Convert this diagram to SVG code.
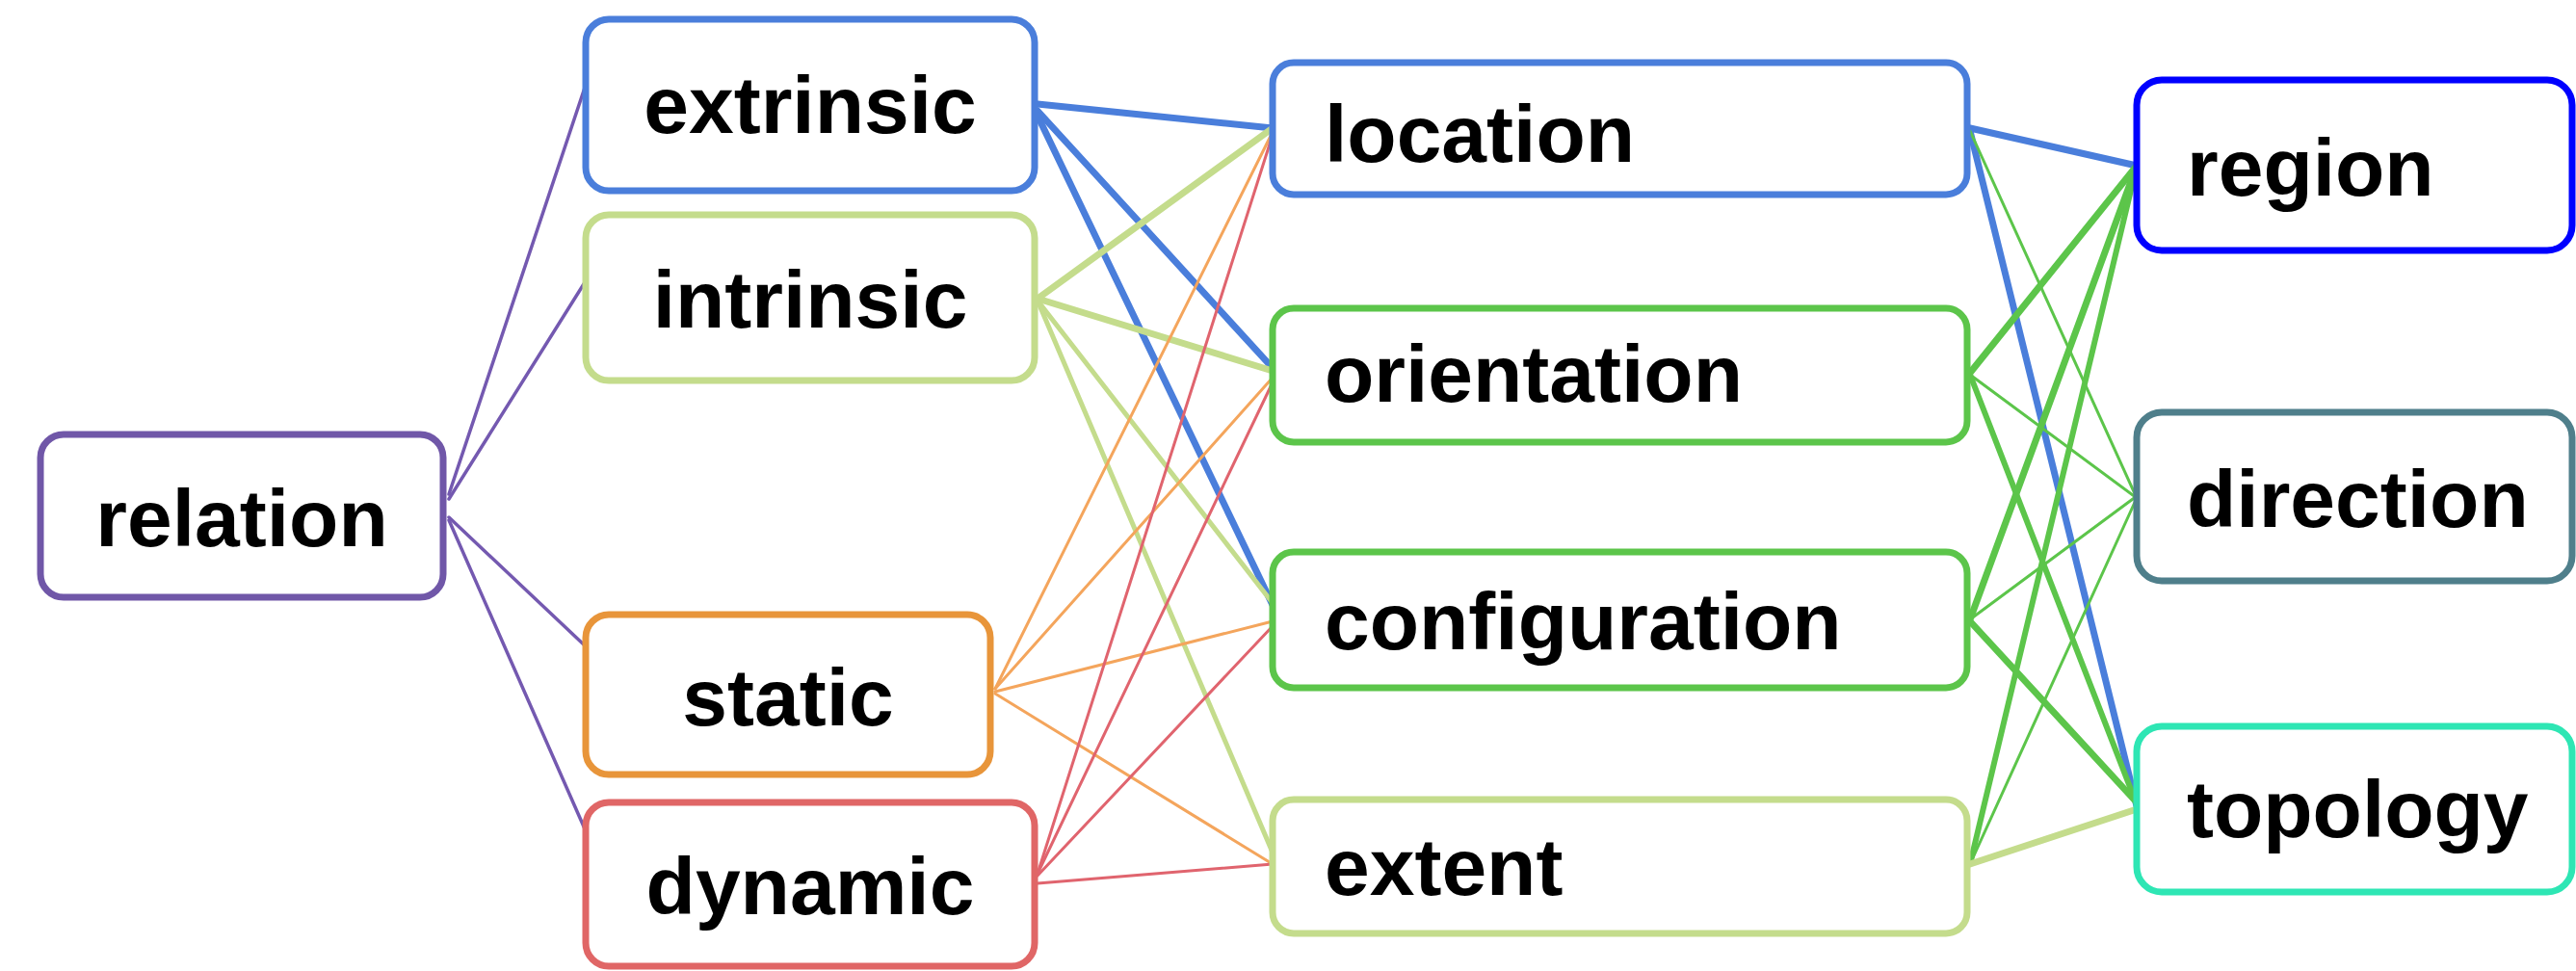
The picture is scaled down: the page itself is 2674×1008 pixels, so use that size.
<svg xmlns="http://www.w3.org/2000/svg" width="2674" height="1008" viewBox="0 0 2674 1008">
  <style>
    .box { fill: #ffffff; stroke-width: 7; }
    .lbl { font-family: "Liberation Sans", Arial, sans-serif; font-weight: bold; font-size: 84px; fill: #000000; }
    .mid { text-anchor: middle; }
    .start { text-anchor: start; }
    .edges line { stroke-linecap: round; fill: none; }
    .purple { stroke: #7459B0; stroke-width: 3.5; }
    .blue { stroke: #4A7EDB; stroke-width: 7; }
    .lgreen { stroke: #C4DC8C; }
    .orange { stroke: #F4A55C; stroke-width: 3; }
    .red { stroke: #E0646E; stroke-width: 3; }
    .green { stroke: #5CC54A; }
  </style>

  <!-- connectors -->
  <g id="connectors" class="edges">
    <!-- relation to its four kinds -->
    <line class="purple" x1="466" y1="513" x2="609" y2="85"/>
    <line class="purple" x1="466" y1="518" x2="609" y2="290"/>
    <line class="purple" x1="466" y1="537" x2="609" y2="672"/>
    <line class="purple" x1="466" y1="540" x2="609" y2="865"/>

    <!-- extrinsic -->
    <line class="blue" x1="1077" y1="108" x2="1321" y2="133"/>
    <line class="blue" x1="1077" y1="115" x2="1321" y2="382"/>
    <line class="blue" x1="1077" y1="120" x2="1321" y2="628"/>

    <!-- intrinsic -->
    <line class="lgreen" stroke-width="7" x1="1077" y1="310" x2="1321" y2="133"/>
    <line class="lgreen" stroke-width="7" x1="1077" y1="310" x2="1321" y2="385"/>
    <line class="lgreen" stroke-width="5" x1="1077" y1="312" x2="1321" y2="626"/>
    <line class="lgreen" stroke-width="5" x1="1077" y1="312" x2="1321" y2="885"/>

    <!-- static -->
    <line class="orange" x1="1033" y1="715" x2="1321" y2="137"/>
    <line class="orange" x1="1033" y1="715" x2="1321" y2="392"/>
    <line class="orange" x1="1033" y1="718" x2="1321" y2="645"/>
    <line class="orange" x1="1033" y1="720" x2="1321" y2="897"/>

    <!-- dynamic -->
    <line class="red" x1="1077" y1="907" x2="1321" y2="140"/>
    <line class="red" x1="1077" y1="907" x2="1321" y2="397"/>
    <line class="red" x1="1077" y1="909" x2="1321" y2="650"/>
    <line class="red" stroke-width="3.5" x1="1077" y1="917" x2="1321" y2="897"/>

    <!-- location -->
    <line class="blue" x1="2045" y1="133" x2="2218" y2="172"/>
    <line class="blue" x1="2045" y1="136" x2="2218" y2="837"/>
    <line class="green" stroke-width="3" x1="2045" y1="136" x2="2218" y2="517"/>

    <!-- orientation -->
    <line class="green" stroke-width="7" x1="2045" y1="387" x2="2218" y2="172"/>
    <line class="green" stroke-width="3" x1="2045" y1="389" x2="2218" y2="517"/>
    <line class="green" stroke-width="6" x1="2045" y1="389" x2="2218" y2="835"/>

    <!-- configuration -->
    <line class="green" stroke-width="7" x1="2045" y1="643" x2="2218" y2="172"/>
    <line class="green" stroke-width="3" x1="2045" y1="643" x2="2218" y2="515"/>
    <line class="green" stroke-width="7" x1="2045" y1="645" x2="2218" y2="833"/>

    <!-- extent -->
    <line class="green" stroke-width="6" x1="2045" y1="897" x2="2218" y2="172"/>
    <line class="green" stroke-width="3" x1="2045" y1="897" x2="2218" y2="517"/>
    <line class="lgreen" stroke-width="7" x1="2045" y1="897" x2="2218" y2="840"/>
  </g>

  <!-- first column -->
  <g id="relation">
    <rect class="box" x="42" y="451" width="418" height="169" rx="24" stroke="#7057A8"/>
    <text class="lbl mid" x="251" y="567">relation</text>
  </g>

  <!-- second column -->
  <g id="extrinsic">
    <rect class="box" x="608" y="20" width="466" height="178" rx="24" stroke="#4A7EDB"/>
    <text class="lbl mid" x="841" y="138">extrinsic</text>
  </g>
  <g id="intrinsic">
    <rect class="box" x="608" y="223" width="466" height="172" rx="24" stroke="#C4DC8C"/>
    <text class="lbl mid" x="841" y="340">intrinsic</text>
  </g>
  <g id="static">
    <rect class="box" x="608" y="638" width="420" height="166" rx="24" stroke="#E8953A"/>
    <text class="lbl mid" x="818" y="753">static</text>
  </g>
  <g id="dynamic">
    <rect class="box" x="608" y="833" width="466" height="170" rx="24" stroke="#E06666"/>
    <text class="lbl mid" x="841" y="949">dynamic</text>
  </g>

  <!-- third column -->
  <g id="location">
    <rect class="box" x="1321" y="65" width="721" height="137" rx="22" stroke="#4A7EDB"/>
    <text class="lbl start" x="1375" y="168">location</text>
  </g>
  <g id="orientation">
    <rect class="box" x="1321" y="320" width="721" height="139" rx="22" stroke="#5CC54A"/>
    <text class="lbl start" x="1375" y="417">orientation</text>
  </g>
  <g id="configuration">
    <rect class="box" x="1321" y="573" width="721" height="141" rx="22" stroke="#5CC54A"/>
    <text class="lbl start" x="1375" y="674">configuration</text>
  </g>
  <g id="extent">
    <rect class="box" x="1321" y="830" width="721" height="139" rx="22" stroke="#C4DC8C"/>
    <text class="lbl start" x="1375" y="929">extent</text>
  </g>

  <!-- fourth column -->
  <g id="region">
    <rect class="box" x="2218" y="83" width="452" height="177" rx="26" stroke="#0000FF"/>
    <text class="lbl start" x="2270" y="203">region</text>
  </g>
  <g id="direction">
    <rect class="box" x="2218" y="428" width="452" height="175" rx="26" stroke="#4F7F8B"/>
    <text class="lbl start" x="2270" y="547">direction</text>
  </g>
  <g id="topology">
    <rect class="box" x="2218" y="754" width="452" height="172" rx="26" stroke="#2EE6B4"/>
    <text class="lbl start" x="2270" y="869">topology</text>
  </g>
</svg>
